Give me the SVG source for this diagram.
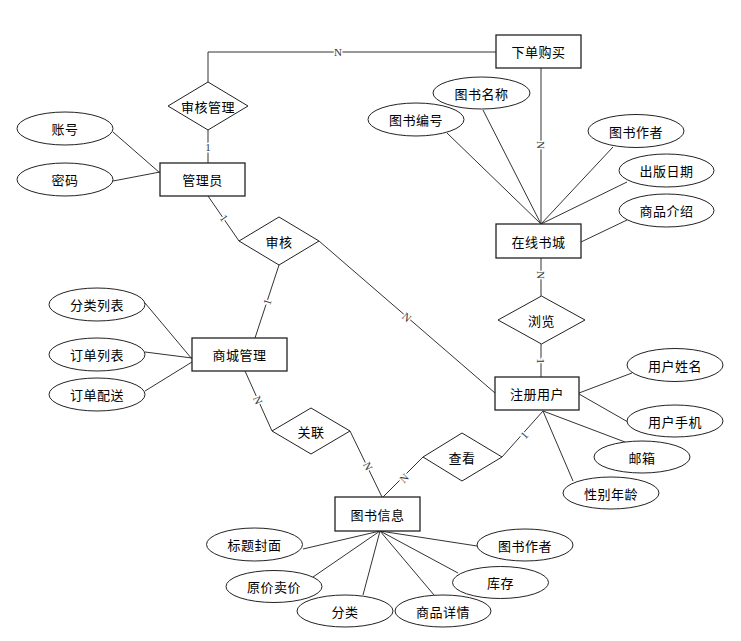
<svg xmlns="http://www.w3.org/2000/svg" width="741" height="641" viewBox="0 0 741 641">
<style>
.box{fill:#fff;stroke:#222;stroke-width:1.3}
.att{fill:#fff;stroke:#222;stroke-width:1}
.rel{fill:#fff;stroke:#222;stroke-width:1}
.t{font-family:"Noto Sans CJK SC","Liberation Sans",sans-serif;font-size:13px;fill:#000;text-anchor:middle;dominant-baseline:central;letter-spacing:0.5px}
.ln{fill:none;stroke:#333;stroke-width:1}
.card{font-family:"Liberation Serif",serif;font-size:11px;fill:#333;text-anchor:middle;dominant-baseline:central;stroke:#fff;stroke-width:3;paint-order:stroke}
</style>
<rect width="741" height="641" fill="#fff"/>
<g id="connectors">
<polyline class="ln" points="496,52 208,52 208,82"/>
<line class="ln" x1="541" y1="68" x2="541" y2="224"/>
<line class="ln" x1="208" y1="130" x2="208" y2="163"/>
<line class="ln" x1="113" y1="132" x2="160" y2="173"/>
<line class="ln" x1="113" y1="181" x2="160" y2="172"/>
<line class="ln" x1="208" y1="196" x2="239" y2="241"/>
<line class="ln" x1="279" y1="265" x2="255" y2="338"/>
<line class="ln" x1="319" y1="241" x2="495" y2="393"/>
<line class="ln" x1="145" y1="303" x2="192" y2="359"/>
<line class="ln" x1="145" y1="352" x2="192" y2="358"/>
<line class="ln" x1="145" y1="391" x2="192" y2="362"/>
<line class="ln" x1="245" y1="371" x2="272" y2="431"/>
<line class="ln" x1="350" y1="431" x2="382" y2="497"/>
<line class="ln" x1="423" y1="457" x2="383" y2="497"/>
<line class="ln" x1="502" y1="457" x2="543" y2="411"/>
<line class="ln" x1="541" y1="258" x2="541" y2="296"/>
<line class="ln" x1="541" y1="344" x2="541" y2="377"/>
<line class="ln" x1="447" y1="133" x2="541" y2="224"/>
<line class="ln" x1="483" y1="110" x2="541" y2="224"/>
<line class="ln" x1="613" y1="147" x2="541" y2="224"/>
<line class="ln" x1="627" y1="182" x2="541" y2="224"/>
<line class="ln" x1="627" y1="220" x2="581" y2="242"/>
<line class="ln" x1="632" y1="373" x2="579" y2="393"/>
<line class="ln" x1="628" y1="422" x2="579" y2="394"/>
<line class="ln" x1="625" y1="442" x2="543" y2="411"/>
<line class="ln" x1="573" y1="481" x2="543" y2="411"/>
<line class="ln" x1="303" y1="549" x2="380" y2="531"/>
<line class="ln" x1="313" y1="577" x2="380" y2="531"/>
<line class="ln" x1="363" y1="595" x2="380" y2="531"/>
<line class="ln" x1="434" y1="595" x2="380" y2="531"/>
<line class="ln" x1="458" y1="573" x2="380" y2="531"/>
<line class="ln" x1="477" y1="546" x2="380" y2="531"/>
<text class="card" x="338" y="52">N</text>
<text class="card" x="541" y="145" transform="rotate(90 541 145)">N</text>
<text class="card" x="208" y="147">1</text>
<text class="card" x="224" y="218" transform="rotate(55 224 218)">1</text>
<text class="card" x="267" y="302" transform="rotate(-72 267 302)">1</text>
<text class="card" x="407" y="317" transform="rotate(41 407 317)">N</text>
<text class="card" x="258" y="400" transform="rotate(66 258 400)">N</text>
<text class="card" x="368" y="466" transform="rotate(64 368 466)">N</text>
<text class="card" x="404" y="478" transform="rotate(-45 404 478)">N</text>
<text class="card" x="524" y="435" transform="rotate(-48 524 435)">1</text>
<text class="card" x="541" y="275" transform="rotate(90 541 275)">N</text>
<text class="card" x="541" y="361" transform="rotate(90 541 361)">1</text>
</g>
<g id="xiadan"><rect class="box" x="496" y="35" width="85" height="33"/><text class="t" x="538.5" y="51.5">下单购买</text></g>
<g id="shenheguanli"><polygon class="rel" points="208,82 248,106 208,130 168,106"/><text class="t" x="208" y="106">审核管理</text></g>
<g id="guanliyuan"><rect class="box" x="160" y="163" width="85" height="33"/><text class="t" x="202.5" y="179.5">管理员</text></g>
<g id="zhanghao"><ellipse class="att" cx="65" cy="128.5" rx="48" ry="16.5"/><text class="t" x="65" y="128.5">账号</text></g>
<g id="mima"><ellipse class="att" cx="65" cy="179.5" rx="48" ry="16.5"/><text class="t" x="65" y="179.5">密码</text></g>
<g id="shenhe"><polygon class="rel" points="279,217 319,241 279,265 239,241"/><text class="t" x="279" y="241">审核</text></g>
<g id="shangcheng"><rect class="box" x="192" y="338" width="95" height="33"/><text class="t" x="239.5" y="354.5">商城管理</text></g>
<g id="fenleiliebiao"><ellipse class="att" cx="97" cy="304.5" rx="48" ry="16.5"/><text class="t" x="97" y="304.5">分类列表</text></g>
<g id="dingdanliebiao"><ellipse class="att" cx="97" cy="354.5" rx="48" ry="16.5"/><text class="t" x="97" y="354.5">订单列表</text></g>
<g id="dingdanpeisong"><ellipse class="att" cx="97" cy="394.5" rx="48" ry="16.5"/><text class="t" x="97" y="394.5">订单配送</text></g>
<g id="guanlian"><polygon class="rel" points="311,408 350,431 311,454 272,431"/><text class="t" x="311" y="431">关联</text></g>
<g id="tushuxinxi"><rect class="box" x="335" y="497" width="85" height="34"/><text class="t" x="377.5" y="514">图书信息</text></g>
<g id="chakan"><polygon class="rel" points="462,433 502,457 462,481 423,457"/><text class="t" x="462" y="457">查看</text></g>
<g id="zhuceyonghu"><rect class="box" x="495" y="377" width="84" height="33"/><text class="t" x="537" y="393.5">注册用户</text></g>
<g id="liulan"><polygon class="rel" points="541.5,296 585,320 541.5,344 498,320"/><text class="t" x="541.5" y="320">浏览</text></g>
<g id="zaixianshucheng"><rect class="box" x="496" y="224" width="85" height="34"/><text class="t" x="538.5" y="241">在线书城</text></g>
<g id="tushubianhao"><ellipse class="att" cx="416" cy="119.5" rx="48" ry="16.5"/><text class="t" x="416" y="119.5">图书编号</text></g>
<g id="tushumingcheng"><ellipse class="att" cx="481.5" cy="93" rx="48.5" ry="16"/><text class="t" x="481.5" y="93">图书名称</text></g>
<g id="tushuzuozhe1"><ellipse class="att" cx="636" cy="131" rx="48" ry="16.5"/><text class="t" x="636" y="131">图书作者</text></g>
<g id="chubanriqi"><ellipse class="att" cx="666.5" cy="170.5" rx="47.5" ry="16.5"/><text class="t" x="666.5" y="170.5">出版日期</text></g>
<g id="shangpinjieshao"><ellipse class="att" cx="666.5" cy="210.5" rx="47.5" ry="16.5"/><text class="t" x="666.5" y="210.5">商品介绍</text></g>
<g id="yonghuxingming"><ellipse class="att" cx="675" cy="365" rx="48" ry="16.5"/><text class="t" x="675" y="365">用户姓名</text></g>
<g id="yonghushouji"><ellipse class="att" cx="675" cy="421" rx="48" ry="16"/><text class="t" x="675" y="421">用户手机</text></g>
<g id="youxiang"><ellipse class="att" cx="642" cy="457" rx="48" ry="16"/><text class="t" x="642" y="457">邮箱</text></g>
<g id="xingbienianling"><ellipse class="att" cx="611" cy="493" rx="48" ry="16"/><text class="t" x="611" y="493">性别年龄</text></g>
<g id="biaotifengmian"><ellipse class="att" cx="254.5" cy="544.5" rx="48" ry="16.5"/><text class="t" x="254.5" y="544.5">标题封面</text></g>
<g id="yuanjiamaijia"><ellipse class="att" cx="274" cy="586.5" rx="48" ry="16"/><text class="t" x="274" y="586.5">原价卖价</text></g>
<g id="fenlei"><ellipse class="att" cx="345" cy="611" rx="48" ry="16"/><text class="t" x="345" y="611">分类</text></g>
<g id="shangpinxiangqing"><ellipse class="att" cx="443" cy="611" rx="48" ry="16"/><text class="t" x="443" y="611">商品详情</text></g>
<g id="kucun"><ellipse class="att" cx="500.5" cy="582.5" rx="48" ry="16"/><text class="t" x="500.5" y="582.5">库存</text></g>
<g id="tushuzuozhe2"><ellipse class="att" cx="525" cy="545" rx="48" ry="16"/><text class="t" x="525" y="545">图书作者</text></g>
</svg>
